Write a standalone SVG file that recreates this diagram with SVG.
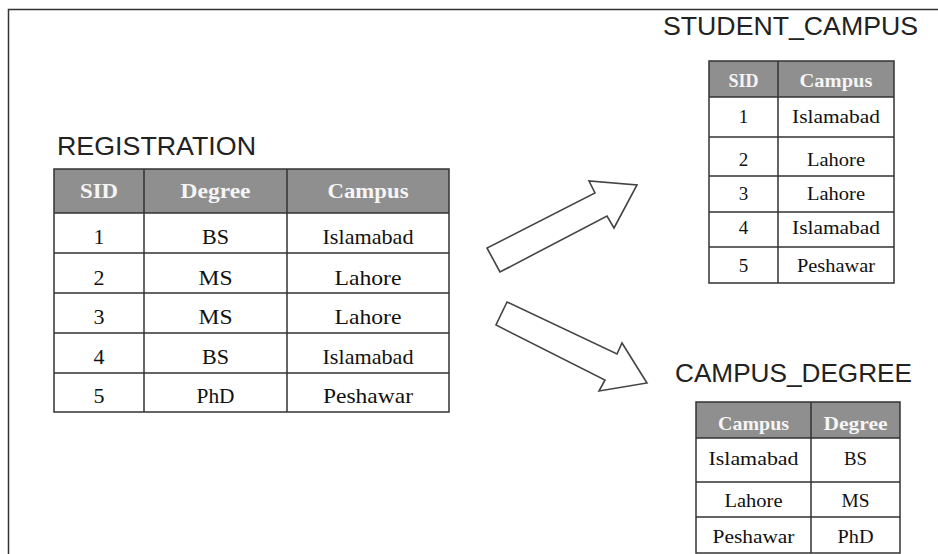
<svg xmlns="http://www.w3.org/2000/svg" width="938" height="554" viewBox="0 0 938 554">
<style>
.frame{fill:none;stroke:#333;stroke-width:1.5}
.title{font-family:"Liberation Sans",Arial,sans-serif;font-size:25px;fill:#222}
.hdr{fill:#8f8f8f;stroke:none}
.grid{fill:none;stroke:#333;stroke-width:1.5}
.hd{font-family:"Liberation Serif","Times New Roman",serif;font-weight:bold;fill:#f5f5f5;text-anchor:middle}
.cell{font-family:"Liberation Serif","Times New Roman",serif;fill:#111;text-anchor:middle}
.big{font-size:22px}
.sm{font-size:19px}
.arrow{fill:#fff;stroke:#444;stroke-width:1.6;stroke-linejoin:miter}
</style>
<rect width="938" height="554" fill="#fff"/>
<path class="frame" d="M8.5 554 V9.5 H938"/>

<g id="registration">
  <text class="title" x="57" y="155" textLength="199" lengthAdjust="spacingAndGlyphs">REGISTRATION</text>
  <rect class="hdr" x="54" y="169" width="395" height="44"/>
  <rect class="grid" x="54" y="169" width="395" height="243"/>
  <path class="grid" d="M54 213H449M54 253H449M54 293H449M54 333H449M54 373H449M144 169V412M287 169V412"/>
  <g class="hd big">
    <text x="99" y="198" textLength="38" lengthAdjust="spacingAndGlyphs">SID</text>
    <text x="215.5" y="198" textLength="70" lengthAdjust="spacingAndGlyphs">Degree</text>
    <text x="368" y="198" textLength="81" lengthAdjust="spacingAndGlyphs">Campus</text>
  </g>
  <g class="cell big">
    <text x="99" y="244">1</text>
    <text x="215.5" y="244" textLength="27" lengthAdjust="spacingAndGlyphs">BS</text>
    <text x="368" y="244" textLength="91" lengthAdjust="spacingAndGlyphs">Islamabad</text>
    <text x="99" y="285">2</text>
    <text x="215.5" y="285" textLength="34" lengthAdjust="spacingAndGlyphs">MS</text>
    <text x="368" y="285" textLength="67" lengthAdjust="spacingAndGlyphs">Lahore</text>
    <text x="99" y="324">3</text>
    <text x="215.5" y="324" textLength="34" lengthAdjust="spacingAndGlyphs">MS</text>
    <text x="368" y="324" textLength="67" lengthAdjust="spacingAndGlyphs">Lahore</text>
    <text x="99" y="364">4</text>
    <text x="215.5" y="364" textLength="27" lengthAdjust="spacingAndGlyphs">BS</text>
    <text x="368" y="364" textLength="91" lengthAdjust="spacingAndGlyphs">Islamabad</text>
    <text x="99" y="403">5</text>
    <text x="215.5" y="403" textLength="38" lengthAdjust="spacingAndGlyphs">PhD</text>
    <text x="368" y="403" textLength="90" lengthAdjust="spacingAndGlyphs">Peshawar</text>
  </g>
</g>

<g id="student_campus">
  <text class="title" x="663" y="35" textLength="255" lengthAdjust="spacingAndGlyphs">STUDENT_CAMPUS</text>
  <rect class="hdr" x="709" y="61" width="185" height="36"/>
  <rect class="grid" x="709" y="61" width="185" height="222"/>
  <path class="grid" d="M709 97H894M709 137H894M709 176H894M709 212H894M709 247H894M778 61V283"/>
  <g class="hd sm">
    <text x="743.5" y="87" textLength="30" lengthAdjust="spacingAndGlyphs">SID</text>
    <text x="836" y="87" textLength="73" lengthAdjust="spacingAndGlyphs">Campus</text>
  </g>
  <g class="cell sm">
    <text x="743.5" y="123">1</text>
    <text x="836" y="123" textLength="88" lengthAdjust="spacingAndGlyphs">Islamabad</text>
    <text x="743.5" y="166">2</text>
    <text x="836" y="166" textLength="58" lengthAdjust="spacingAndGlyphs">Lahore</text>
    <text x="743.5" y="200">3</text>
    <text x="836" y="200" textLength="58" lengthAdjust="spacingAndGlyphs">Lahore</text>
    <text x="743.5" y="234">4</text>
    <text x="836" y="234" textLength="88" lengthAdjust="spacingAndGlyphs">Islamabad</text>
    <text x="743.5" y="272">5</text>
    <text x="836" y="272" textLength="78" lengthAdjust="spacingAndGlyphs">Peshawar</text>
  </g>
</g>

<g id="campus_degree">
  <text class="title" x="675" y="382" textLength="237" lengthAdjust="spacingAndGlyphs">CAMPUS_DEGREE</text>
  <rect class="hdr" x="696" y="402" width="204" height="36"/>
  <rect class="grid" x="696" y="402" width="204" height="151"/>
  <path class="grid" d="M696 438H900M696 482H900M696 517H900M811 402V553"/>
  <g class="hd sm">
    <text x="753.5" y="430" textLength="71" lengthAdjust="spacingAndGlyphs">Campus</text>
    <text x="855.5" y="430" textLength="64" lengthAdjust="spacingAndGlyphs">Degree</text>
  </g>
  <g class="cell sm">
    <text x="753.5" y="465" textLength="90" lengthAdjust="spacingAndGlyphs">Islamabad</text>
    <text x="855.5" y="465" textLength="23" lengthAdjust="spacingAndGlyphs">BS</text>
    <text x="753.5" y="507" textLength="58" lengthAdjust="spacingAndGlyphs">Lahore</text>
    <text x="855.5" y="507" textLength="28" lengthAdjust="spacingAndGlyphs">MS</text>
    <text x="753.5" y="543" textLength="82" lengthAdjust="spacingAndGlyphs">Peshawar</text>
    <text x="855.5" y="543" textLength="36" lengthAdjust="spacingAndGlyphs">PhD</text>
  </g>
</g>

<g id="connectors">
  <polygon class="arrow" points="500,272 487,248 595,193 589,181 637,185 614,228 607,216"/>
  <polygon class="arrow" points="507,302 496,325 605,380 599,391 647,383 622,343 617,354"/>
</g>
</svg>
